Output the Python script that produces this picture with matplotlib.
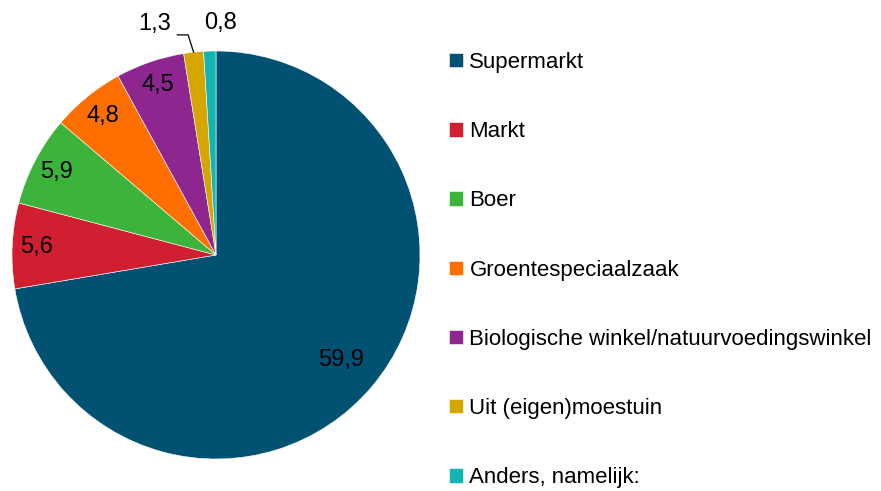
import numpy as np
import matplotlib
matplotlib.use("Agg")
import matplotlib.pyplot as plt

plt.rcParams['font.family'] = ['Liberation Sans', 'DejaVu Sans']

categories = ["Supermarkt", "Markt", "Boer", "Groentespeciaalzaak",
              "Biologische winkel/natuurvoedingswinkel", "Uit (eigen)moestuin",
              "Anders, namelijk:"]
values = [59.9, 5.6, 5.9, 4.8, 4.5, 1.3, 0.8]
colors = ["#005172", "#d01f31", "#3cb43c", "#ff6f00", "#8e2690", "#d6a600", "#14b4b0"]

fig = plt.figure(figsize=(8.81, 4.91), dpi=100)
ax = fig.add_axes([12 / 881, 32 / 491, 408 / 881, 408 / 491])

wedges, _ = ax.pie(values, colors=colors, startangle=90, counterclock=False,
                   wedgeprops=dict(edgecolor="white", linewidth=0.4))
ax.set_xlim(-1, 1)
ax.set_ylim(-1, 1)
ax.set_aspect("equal")

def fmt(v):
    return ("%.1f" % v).replace(".", ",")

for i, (w, v) in enumerate(zip(wedges, values)):
    mid = np.deg2rad((w.theta1 + w.theta2) / 2)
    if v >= 2:
        r = 0.8 if i == 0 else 0.88
        ax.text(r * np.cos(mid), r * np.sin(mid), fmt(v), ha="center", va="center",
                fontsize=17, color="black")

# small slices: labels outside
w = wedges[5]
mid = np.deg2rad((w.theta1 + w.theta2) / 2)
x0, y0 = np.cos(mid), np.sin(mid)
ax.plot([x0, x0 - 0.027, x0 - 0.08], [y0, y0 + 0.085, y0 + 0.085], color="black",
        lw=0.9, clip_on=False)
ax.text(x0 - 0.19, y0 + 0.14, fmt(values[5]), ha="center", va="center", fontsize=17,
        clip_on=False)
w = wedges[6]
mid = np.deg2rad((w.theta1 + w.theta2) / 2)
ax.text(np.cos(mid) + 0.05, np.sin(mid) + 0.14, fmt(values[6]), ha="center", va="center",
        fontsize=17, clip_on=False)

fig.legend(wedges, categories, loc="upper left", bbox_to_anchor=(449 / 881, 1 - 52 / 491),
           frameon=False, fontsize=16, handlelength=0.62, handleheight=0.62,
           handletextpad=0.3, labelspacing=2.17, borderaxespad=0, borderpad=0)

fig.savefig("out.png", dpi=100)
